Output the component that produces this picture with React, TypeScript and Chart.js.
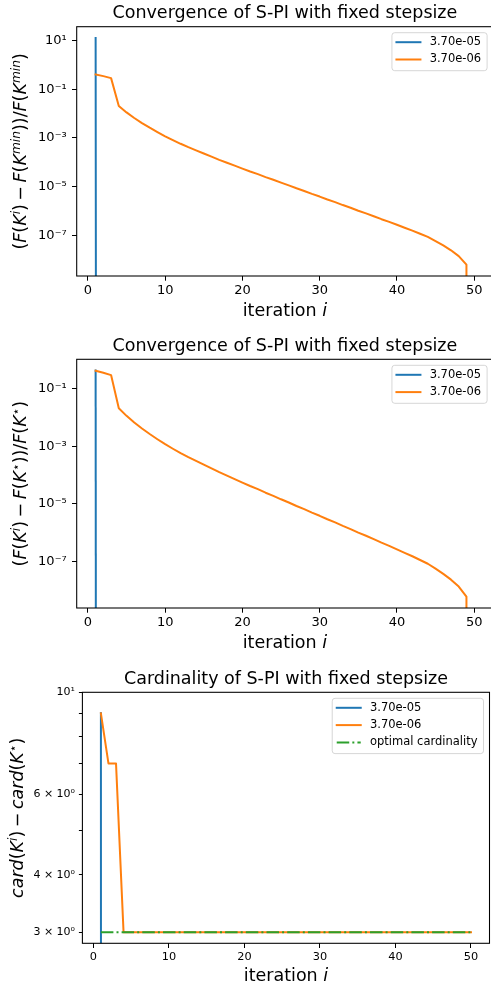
import React, { useEffect, useRef } from 'react';
import { Chart, registerables } from 'chart.js';

Chart.register(...registerables);

const FAMILY = '"DejaVu Sans", "Liberation Sans", sans-serif';

// ---------------- data ----------------
const iterations = [
  1, 2, 3, 4, 5, 6, 7, 8, 9, 10,
  11, 12, 13, 14, 15, 16, 17, 18, 19, 20,
  21, 22, 23, 24, 25, 26, 27, 28, 29, 30,
  31, 32, 33, 34, 35, 36, 37, 38, 39, 40,
  41, 42, 43, 44, 45, 46, 47, 48, 49, 50,
];

// relative suboptimality of the 3.70e-06 run (last value 0 -> clipped on log axis)
const convOrange = [
  0.407, 0.347, 0.288, 0.0204, 0.0112, 6.61e-3, 4.07e-3, 2.63e-3, 1.74e-3, 1.17e-3,
  8.13e-4, 5.75e-4, 4.17e-4, 3.09e-4, 2.29e-4, 1.7e-4, 1.26e-4, 9.55e-5, 7.24e-5, 5.5e-5,
  4.17e-5, 3.24e-5, 2.45e-5, 1.91e-5, 1.45e-5, 1.12e-5, 8.51e-6, 6.61e-6, 5.01e-6, 3.89e-6,
  2.95e-6, 2.29e-6, 1.74e-6, 1.35e-6, 1.02e-6, 7.94e-7, 6.03e-7, 4.57e-7, 3.55e-7, 2.69e-7,
  2.04e-7, 1.55e-7, 1.15e-7, 8.51e-8, 5.75e-8, 3.8e-8, 2.4e-8, 1.38e-8, 6.17e-9, 0,
];
const conv1Blue = [12.8, 0];
const conv2Blue = [0.412, 0];

const cardBlue = [9, 0];
const cardOrange = [
  9, 7, 7, 3, 3, 3, 3, 3, 3, 3,
  3, 3, 3, 3, 3, 3, 3, 3, 3, 3,
  3, 3, 3, 3, 3, 3, 3, 3, 3, 3,
  3, 3, 3, 3, 3, 3, 3, 3, 3, 3,
  3, 3, 3, 3, 3, 3, 3, 3, 3, 3,
];
const cardOptimal = [
  3, 3, 3, 3, 3, 3, 3, 3, 3, 3,
  3, 3, 3, 3, 3, 3, 3, 3, 3, 3,
  3, 3, 3, 3, 3, 3, 3, 3, 3, 3,
  3, 3, 3, 3, 3, 3, 3, 3, 3, 3,
  3, 3, 3, 3, 3, 3, 3, 3, 3, 3,
];

const seriesLabels = ['3.70e-05', '3.70e-06', 'optimal cardinality'];
const titles = [
  'Convergence of S-PI with fixed stepsize',
  'Convergence of S-PI with fixed stepsize',
  'Cardinality of S-PI with fixed stepsize',
];
const xTicks = [0, 10, 20, 30, 40, 50];
const convYTicks = [1e1, 1e-1, 1e-3, 1e-5, 1e-7];
const cardYTicks = [3, 4, 5, 6, 7, 8, 9, 10];
const cardYTickLabels = ['3 × 10⁰', '4 × 10⁰', '', '6 × 10⁰', '', '', '', '10¹'];
const cardYMax = 10;

// ---------------- styling helpers ----------------
const BLUE = '#1f77b4';
const ORANGE = '#ff7f0e';
const GREEN = '#2ca02c';

type Seg = { t: string; it?: boolean; sup?: boolean };
const MINUS = '\u2009−\u2009';
const xTitleSegs: Seg[] = [{ t: 'iteration ' }, { t: 'i', it: true }];
const y1TitleSegs: Seg[] = [
  { t: '(' }, { t: 'F', it: true }, { t: '(' }, { t: 'K', it: true }, { t: 'i', it: true, sup: true }, { t: ')' },
  { t: MINUS },
  { t: 'F', it: true }, { t: '(' }, { t: 'K', it: true }, { t: 'min', it: true, sup: true }, { t: '))/' },
  { t: 'F', it: true }, { t: '(' }, { t: 'K', it: true }, { t: 'min', it: true, sup: true }, { t: ')' },
];
const y2TitleSegs: Seg[] = [
  { t: '(' }, { t: 'F', it: true }, { t: '(' }, { t: 'K', it: true }, { t: 'i', it: true, sup: true }, { t: ')' },
  { t: MINUS },
  { t: 'F', it: true }, { t: '(' }, { t: 'K', it: true }, { t: '⋆', sup: true }, { t: '))/' },
  { t: 'F', it: true }, { t: '(' }, { t: 'K', it: true }, { t: '⋆', sup: true }, { t: ')' },
];
const y3TitleSegs: Seg[] = [
  { t: 'card', it: true }, { t: '(' }, { t: 'K', it: true }, { t: 'i', it: true, sup: true }, { t: ')' },
  { t: MINUS },
  { t: 'card', it: true }, { t: '(' }, { t: 'K', it: true }, { t: '⋆', sup: true }, { t: ')' },
];

const SUP: Record<string, string> = {
  '-': '⁻', '0': '⁰', '1': '¹', '2': '²', '3': '³', '4': '⁴', '5': '⁵', '6': '⁶', '7': '⁷', '8': '⁸', '9': '⁹',
};
const decadeLabel = (v: number) =>
  '10' + String(Math.round(Math.log10(v))).split('').map((c) => SUP[c]).join('');

const pts = (ys: number[]) => ys.map((y, i) => ({ x: iterations[i], y: y > 0 ? y : 1e-300 }));

function marginLimits(values: number[], log: boolean): [number, number] {
  const v = values.filter((x) => (log ? x > 0 : true)).map((x) => (log ? Math.log10(x) : x));
  const lo = Math.min(...v);
  const hi = Math.max(...v);
  const m = (hi - lo) * 0.05;
  return log ? [10 ** (lo - m), 10 ** (hi + m)] : [lo - m, hi + m];
}

function drawRich(ctx: CanvasRenderingContext2D, segs: Seg[], cx: number, cy: number, rot: number, size: number) {
  ctx.save();
  ctx.translate(cx, cy);
  ctx.rotate(rot);
  const fonts = segs.map((s) => `${s.it ? 'italic ' : ''}${s.sup ? size * 0.7 : size}px ${FAMILY}`);
  let total = 0;
  const widths = segs.map((s, i) => {
    ctx.font = fonts[i];
    const w = ctx.measureText(s.t).width;
    total += w;
    return w;
  });
  let x = -total / 2;
  ctx.textAlign = 'left';
  ctx.textBaseline = 'alphabetic';
  ctx.fillStyle = '#000';
  segs.forEach((s, i) => {
    ctx.font = fonts[i];
    ctx.fillText(s.t, x, s.sup ? -size * 0.36 : 0);
    x += widths[i];
  });
  ctx.restore();
}

function roundRectPath(ctx: CanvasRenderingContext2D, x: number, y: number, w: number, h: number, r: number) {
  ctx.beginPath();
  ctx.moveTo(x + r, y);
  ctx.lineTo(x + w - r, y);
  ctx.arcTo(x + w, y, x + w, y + r, r);
  ctx.lineTo(x + w, y + h - r);
  ctx.arcTo(x + w, y + h, x + w - r, y + h, r);
  ctx.lineTo(x + r, y + h);
  ctx.arcTo(x, y + h, x, y + h - r, r);
  ctx.lineTo(x, y + r);
  ctx.arcTo(x, y, x + r, y, r);
  ctx.closePath();
}

interface Spec {
  title: string;
  titlePad: { top: number; bottom: number };
  datasets: any[];
  yMin: number;
  yMax: number;
  yTicks: number[];
  yLabel: (v: number) => string;
  yWidth: number;
  xHeight: number;
  padRight: number;
  xTickSize: number;
  yTickSize: number;
  xTickPad: number;
  yTickPad: number;
  yTickLen: number;
  yTitle: Seg[];
  yTitleX: number;
  xTitleOff: number;
}

const [xMin, xMax] = marginLimits(iterations, false);

function lineDs(label: string, ys: number[], color: string, order: number, dash?: number[]) {
  return {
    label,
    data: pts(ys),
    borderColor: color,
    backgroundColor: color,
    borderWidth: 2,
    borderDash: dash || [],
    borderCapStyle: dash ? 'butt' : 'square',
    borderJoinStyle: 'round',
    pointRadius: 0,
    pointHoverRadius: 0,
    tension: 0,
    fill: false,
    order,
  };
}

function buildConfig(spec: Spec): any {
  const decor = {
    id: 'decor',
    afterDatasetsDraw(chart: any) {
      const { ctx, chartArea: a } = chart;
      ctx.save();
      // axes frame
      ctx.strokeStyle = '#000';
      ctx.lineWidth = 1.07;
      ctx.setLineDash([]);
      ctx.strokeRect(a.left, a.top, a.right - a.left, a.bottom - a.top);
      // legend
      const fs = 11.5;
      ctx.font = `${fs}px ${FAMILY}`;
      const ds = chart.data.datasets;
      const maxW = Math.max(...ds.map((d: any) => ctx.measureText(d.label).width));
      const w = 38 + maxW + 5.7;
      const h = 38 + (ds.length - 2) * 17.3;
      const x0 = a.right - 6 - w;
      const y0 = a.top + 6;
      roundRectPath(ctx, x0, y0, w, h, 2.8);
      ctx.fillStyle = 'rgba(255,255,255,0.8)';
      ctx.fill();
      ctx.strokeStyle = 'rgba(204,204,204,0.8)';
      ctx.lineWidth = 1;
      ctx.stroke();
      ds.forEach((d: any, i: number) => {
        const cy = y0 + 9.5 + i * 17.3;
        ctx.beginPath();
        ctx.setLineDash(d.borderDash || []);
        ctx.lineCap = d.borderDash && d.borderDash.length ? 'butt' : 'square';
        ctx.strokeStyle = d.borderColor;
        ctx.lineWidth = 2;
        ctx.moveTo(x0 + 4.5, cy);
        ctx.lineTo(x0 + 28.5, cy);
        ctx.stroke();
        ctx.setLineDash([]);
        ctx.fillStyle = '#000';
        ctx.textAlign = 'left';
        ctx.textBaseline = 'middle';
        ctx.fillText(d.label, x0 + 37.7, cy);
      });
      // axis titles
      drawRich(ctx, xTitleSegs, (a.left + a.right) / 2, a.bottom + spec.xTitleOff, 0, 17.5);
      drawRich(ctx, spec.yTitle, spec.yTitleX, (a.top + a.bottom) / 2, -Math.PI / 2, 17.5);
      ctx.restore();
    },
  };

  const inRange = (v: number) => v >= spec.yMin * 0.999999 && v <= spec.yMax * 1.000001;

  return {
    type: 'line',
    data: { datasets: spec.datasets },
    options: {
      animation: false,
      responsive: false,
      events: [],
      layout: { padding: { left: 0, top: 0, bottom: 0, right: spec.padRight } },
      plugins: {
        legend: { display: false },
        tooltip: { enabled: false },
        title: {
          display: true,
          text: spec.title,
          fullSize: false,
          color: '#000',
          font: { family: FAMILY, size: 17.5, weight: 'normal', lineHeight: 1 },
          padding: spec.titlePad,
        },
      },
      scales: {
        x: {
          type: 'linear',
          min: xMin,
          max: xMax,
          bounds: 'data',
          grid: { display: true, drawOnChartArea: false, drawTicks: true, tickLength: 4.7, color: '#000', lineWidth: 1 },
          border: { display: false },
          ticks: {
            autoSkip: false,
            maxRotation: 0,
            padding: spec.xTickPad,
            color: '#000',
            font: { family: FAMILY, size: spec.xTickSize },
            callback: (v: number) => String(v),
          },
          afterBuildTicks: (s: any) => {
            s.ticks = xTicks.map((value) => ({ value }));
          },
          afterFit: (s: any) => {
            s.height = spec.xHeight;
          },
        },
        y: {
          type: 'logarithmic',
          min: spec.yMin,
          max: spec.yMax,
          bounds: 'data',
          grid: { display: true, drawOnChartArea: false, drawTicks: true, tickLength: spec.yTickLen, color: '#000', lineWidth: 1 },
          border: { display: false },
          ticks: {
            autoSkip: false,
            padding: spec.yTickPad,
            color: '#000',
            font: { family: FAMILY, size: spec.yTickSize },
            callback: (v: number) => spec.yLabel(v),
          },
          afterBuildTicks: (s: any) => {
            s.ticks = spec.yTicks.filter(inRange).map((value) => ({ value }));
          },
          afterFit: (s: any) => {
            s.width = spec.yWidth;
          },
        },
      },
    },
    plugins: [decor],
  };
}

const [c1Min, c1Max] = marginLimits([...conv1Blue, ...convOrange], true);
const [c2Min, c2Max] = marginLimits([...conv2Blue, ...convOrange], true);
const [c3Min] = marginLimits([...cardBlue, ...cardOrange, ...cardOptimal], true);

const spec1: Spec = {
  title: titles[0],
  titlePad: { top: 5.2, bottom: 4.0 },
  datasets: [lineDs(seriesLabels[0], conv1Blue, BLUE, 3), lineDs(seriesLabels[1], convOrange, ORANGE, 2)],
  yMin: c1Min,
  yMax: c1Max,
  yTicks: convYTicks,
  yLabel: (v) => decadeLabel(v),
  yWidth: 76.7,
  xHeight: 54,
  padRight: 0.9,
  xTickSize: 13,
  yTickSize: 13,
  xTickPad: 1.7,
  yTickPad: 5.3,
  yTickLen: 4.7,
  yTitle: y1TitleSegs,
  yTitleX: 26,
  xTitleOff: 39.5,
};

const spec2: Spec = {
  ...spec1,
  title: titles[1],
  titlePad: { top: 7.9, bottom: 3.9 },
  datasets: [lineDs(seriesLabels[0], conv2Blue, BLUE, 3), lineDs(seriesLabels[1], convOrange, ORANGE, 2)],
  yMin: c2Min,
  yMax: c2Max,
  xHeight: 52,
  yTitle: y2TitleSegs,
  xTitleOff: 40,
};

const spec3: Spec = {
  title: titles[2],
  titlePad: { top: 10.9, bottom: 3.9 },
  datasets: [
    lineDs(seriesLabels[0], cardBlue, BLUE, 3),
    lineDs(seriesLabels[1], cardOrange, ORANGE, 2),
    lineDs(seriesLabels[2], cardOptimal, GREEN, 1, [12.5, 3.1, 2, 3.1]),
  ],
  yMin: c3Min,
  yMax: cardYMax,
  yTicks: cardYTicks,
  yLabel: (v) => cardYTickLabels[cardYTicks.indexOf(Math.round(v))] || '',
  yWidth: 82.4,
  xHeight: 41.7,
  padRight: 1.5,
  xTickSize: 11.3,
  yTickSize: 11,
  xTickPad: 2.4,
  yTickPad: 3.9,
  yTickLen: 3.5,
  yTitle: y3TitleSegs,
  yTitleX: 23,
  xTitleOff: 37.2,
};

function Panel({ spec, top, width, height }: { spec: Spec; top: number; width: number; height: number }) {
  const ref = useRef<HTMLCanvasElement>(null);
  useEffect(() => {
    const chart = new Chart(ref.current as HTMLCanvasElement, buildConfig(spec));
    return () => chart.destroy();
  }, [spec]);
  return (
    <canvas
      ref={ref}
      width={width}
      height={height}
      style={{ position: 'absolute', left: 0, top, width, height, display: 'block' }}
    />
  );
}

export default function App() {
  return (
    <div
      style={{
        position: 'absolute',
        left: 0,
        top: 0,
        width: 491,
        height: 985,
        overflow: 'hidden',
        background: '#fff',
      }}
    >
      <Panel spec={spec1} top={0} width={494} height={330} />
      <Panel spec={spec2} top={330} width={494} height={330} />
      <Panel spec={spec3} top={660} width={491} height={325} />
    </div>
  );
}
